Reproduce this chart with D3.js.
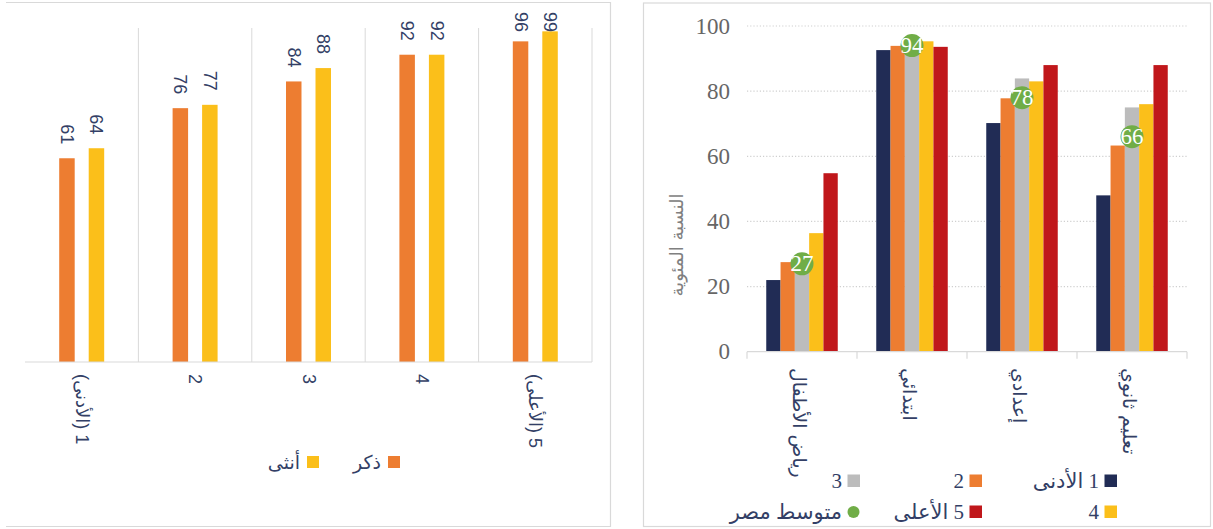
<!DOCTYPE html>
<html><head><meta charset="utf-8">
<script src="https://cdn.jsdelivr.net/npm/d3@7"></script>
<style>
html,body{margin:0;padding:0;background:#fff;}
svg{display:block;}
</style></head>
<body>
<svg id="c" width="1213" height="529"></svg>
<script>
// ---------- Left chart data ----------
const leftCategories = ["1 (الأدنى)", "2", "3", "4", "5 (الأعلى)"];
const leftSeriesNames = ["ذكر", "أنثى"];
const maleValues = [61, 76, 84, 92, 96];
const femaleValues = [64, 77, 88, 92, 99];

// ---------- Right chart data ----------
const levelCategories = ["رياض الأطفال", "ابتدائي", "إعدادي", "تعليم ثانوي"];
const quintileNames = ["1 الأدنى", "2", "3", "4", "5 الأعلى"];
const quintile1 = [22, 92.6, 70.2, 48];
const quintile2 = [27.5, 93.9, 77.8, 63.3];
const quintile3 = [25, 93, 83.9, 75];
const quintile4 = [36.4, 95.3, 83, 76];
const quintile5 = [54.8, 93.6, 88, 88];
const egyptAverage = [27, 94, 78, 66];
const averageName = "متوسط مصر";
const rightTicks = [0, 20, 40, 60, 80, 100];

const svg = d3.select("#c");
const navyText = "#333f66";
const borderCol = "#d9d9d9";

// ================= LEFT PANEL =================
const L = svg.append("g");
L.append("path").attr("d", "M6,2.5H610.5V526.5H6").attr("fill", "none").attr("stroke", borderCol).attr("stroke-width", 1.2);

const lx = d3.scaleBand().domain(leftCategories).range([25, 592]).padding(0);
const ly = d3.scaleLinear().domain([0, 100]).range([362, 28]);
const lsub = d3.scaleBand().domain([0, 1]).range([-29.5, 29.5]).paddingInner(0.475).paddingOuter(0.2375);
const leftColors = ["#ED7D31", "#FBBF1A"];
const leftSeries = [maleValues, femaleValues];

// vertical gridlines at band boundaries (except the left-most)
L.selectAll("line.vg").data(leftCategories).join("line")
  .attr("x1", d => lx(d) + lx.bandwidth()).attr("x2", d => lx(d) + lx.bandwidth())
  .attr("y1", ly(100)).attr("y2", ly(0)).attr("stroke", borderCol).attr("stroke-width", 1);

leftSeries.forEach((vals, si) => {
  L.selectAll("rect.s" + si).data(vals).join("rect")
    .attr("x", (d, i) => lx(leftCategories[i]) + lx.bandwidth() / 2 + lsub(si))
    .attr("width", lsub.bandwidth())
    .attr("y", d => ly(d)).attr("height", d => ly(0) - ly(d))
    .attr("fill", leftColors[si]);
});

// baseline
L.append("line").attr("x1", 25).attr("x2", 592).attr("y1", ly(0)).attr("y2", ly(0))
  .attr("stroke", borderCol).attr("stroke-width", 1.2);

// value labels (rotated)
leftSeries.forEach((vals, si) => {
  vals.forEach((v, i) => {
    const cx = lx(leftCategories[i]) + lx.bandwidth() / 2 + lsub(si) + lsub.bandwidth() / 2;
    const g = L.append("g");
    const t = g.append("text").text(v)
      .attr("font-family", "'Liberation Sans', Arial, sans-serif").attr("font-size", 18)
      .attr("fill", navyText).attr("dominant-baseline", "central").attr("text-anchor", "start");
    const len = t.node().getComputedTextLength();
    let yStart = ly(v) - 14 - len;
    if (yStart < 12) yStart = 12;
    g.attr("transform", `translate(${cx},${yStart}) rotate(90)`);
  });
});

// category labels
L.selectAll("g.lc").data(leftCategories).join("g")
  .attr("transform", d => `translate(${lx(d) + lx.bandwidth() / 2},374) rotate(90)`)
  .append("text").text(d => d)
  .attr("direction", "rtl").attr("text-anchor", "end").attr("dominant-baseline", "central")
  .attr("font-family", "'Liberation Sans', 'DejaVu Sans', sans-serif").attr("font-size", 18)
  .attr("fill", navyText);

// legend
const leftLegendX = [400, 319];
leftSeriesNames.forEach((n, i) => {
  L.append("rect").attr("x", leftLegendX[i] - 12).attr("y", 456).attr("width", 12).attr("height", 12).attr("fill", leftColors[i]);
  L.append("text").text(n).attr("x", leftLegendX[i] - 19).attr("y", 462)
    .attr("direction", "rtl").attr("text-anchor", "start").attr("dominant-baseline", "central")
    .attr("font-family", "'Liberation Sans', 'DejaVu Sans', sans-serif").attr("font-size", 19)
    .attr("fill", navyText);
});

// ================= RIGHT PANEL =================
const R = svg.append("g");
R.append("rect").attr("x", 643.5).attr("y", 3).attr("width", 567).attr("height", 523.5)
  .attr("fill", "none").attr("stroke", borderCol).attr("stroke-width", 1.2);

const rx = d3.scaleBand().domain(levelCategories).range([747, 1187]).padding(0);
const ry = d3.scaleLinear().domain([0, 100]).range([351.7, 26]);
const rsub = d3.scaleBand().domain(d3.range(5)).range([-35.75, 35.75]).padding(0);
const rightColors = ["#212C55", "#ED7D31", "#BCBCBC", "#FBBF1A", "#C0171B"];
const rightSeries = [quintile1, quintile2, quintile3, quintile4, quintile5];
const green = "#70AD47";

// dotted gridlines
R.selectAll("line.hg").data(rightTicks.filter(t => t > 0)).join("line")
  .attr("x1", 747).attr("x2", 1187).attr("y1", d => ry(d)).attr("y2", d => ry(d))
  .attr("stroke", "#cfcfcf").attr("stroke-width", 1.2).attr("stroke-dasharray", "1.2,2");

// y tick labels
R.selectAll("text.yt").data(rightTicks).join("text")
  .attr("x", 730).attr("y", d => ry(d)).text(d => d)
  .attr("text-anchor", "end").attr("dominant-baseline", "central")
  .attr("font-family", "'Liberation Serif', 'Times New Roman', serif").attr("font-size", 23)
  .attr("fill", "#666666");

// y-axis title
R.append("text").text("النسبة المئوية")
  .attr("transform", "translate(676,245) rotate(-90)")
  .attr("text-anchor", "middle").attr("dominant-baseline", "central")
  .attr("font-family", "'DejaVu Sans', sans-serif").attr("font-size", 18)
  .attr("fill", "#808080");

rightSeries.forEach((vals, si) => {
  R.selectAll("rect.q" + si).data(vals).join("rect")
    .attr("x", (d, i) => rx(levelCategories[i]) + rx.bandwidth() / 2 + rsub(si))
    .attr("width", rsub.bandwidth())
    .attr("y", d => ry(d)).attr("height", d => ry(0) - ry(d))
    .attr("fill", rightColors[si]);
});

// baseline + ticks
R.append("line").attr("x1", 747).attr("x2", 1187).attr("y1", ry(0)).attr("y2", ry(0))
  .attr("stroke", borderCol).attr("stroke-width", 1.2);
const bounds = levelCategories.map(d => rx(d)).concat([rx.range()[1]]);
R.selectAll("line.tk").data(bounds).join("line")
  .attr("x1", d => d).attr("x2", d => d).attr("y1", ry(0)).attr("y2", ry(0) + 7)
  .attr("stroke", borderCol).attr("stroke-width", 1.2);

// average markers
R.selectAll("circle.avg").data(egyptAverage).join("circle")
  .attr("cx", (d, i) => rx(levelCategories[i]) + rx.bandwidth() / 2)
  .attr("cy", d => ry(d)).attr("r", 11.5).attr("fill", green);
R.selectAll("text.avg").data(egyptAverage).join("text")
  .attr("x", (d, i) => rx(levelCategories[i]) + rx.bandwidth() / 2)
  .attr("y", d => ry(d)).text(d => d)
  .attr("text-anchor", "middle").attr("dominant-baseline", "central")
  .attr("font-family", "'Liberation Serif', 'Times New Roman', serif").attr("font-size", 23)
  .attr("fill", "#ffffff");

// category labels
R.selectAll("g.rc").data(levelCategories).join("g")
  .attr("transform", d => `translate(${rx(d) + rx.bandwidth() / 2 - 2},368) rotate(90)`)
  .append("text").text(d => d)
  .attr("direction", "rtl").attr("text-anchor", "end").attr("dominant-baseline", "central")
  .attr("font-family", "'DejaVu Sans', sans-serif").attr("font-size", 19)
  .attr("fill", navyText);

// legend
const legItems = quintileNames.map((n, i) => ({name: n, color: rightColors[i], circle: false}))
  .concat([{name: averageName, color: green, circle: true}]);
const colRight = [1117, 982, 860];
const rowY = [481, 512];
legItems.forEach((it, i) => {
  const col = i % 3, row = Math.floor(i / 3);
  const xr = colRight[col], yc = rowY[row];
  if (it.circle) {
    R.append("circle").attr("cx", xr - 6.5).attr("cy", yc).attr("r", 6).attr("fill", it.color);
  } else {
    R.append("rect").attr("x", xr - 12.5).attr("y", yc - 6.5).attr("width", 12.5).attr("height", 12.5).attr("fill", it.color);
  }
  R.append("text").text(it.name).attr("x", xr - 18).attr("y", yc)
    .attr("direction", "rtl").attr("text-anchor", "start").attr("dominant-baseline", "central")
    .attr("font-family", "'Liberation Serif', 'DejaVu Sans', serif").attr("font-size", 21)
    .attr("fill", navyText);
});
</script>
</body></html>
